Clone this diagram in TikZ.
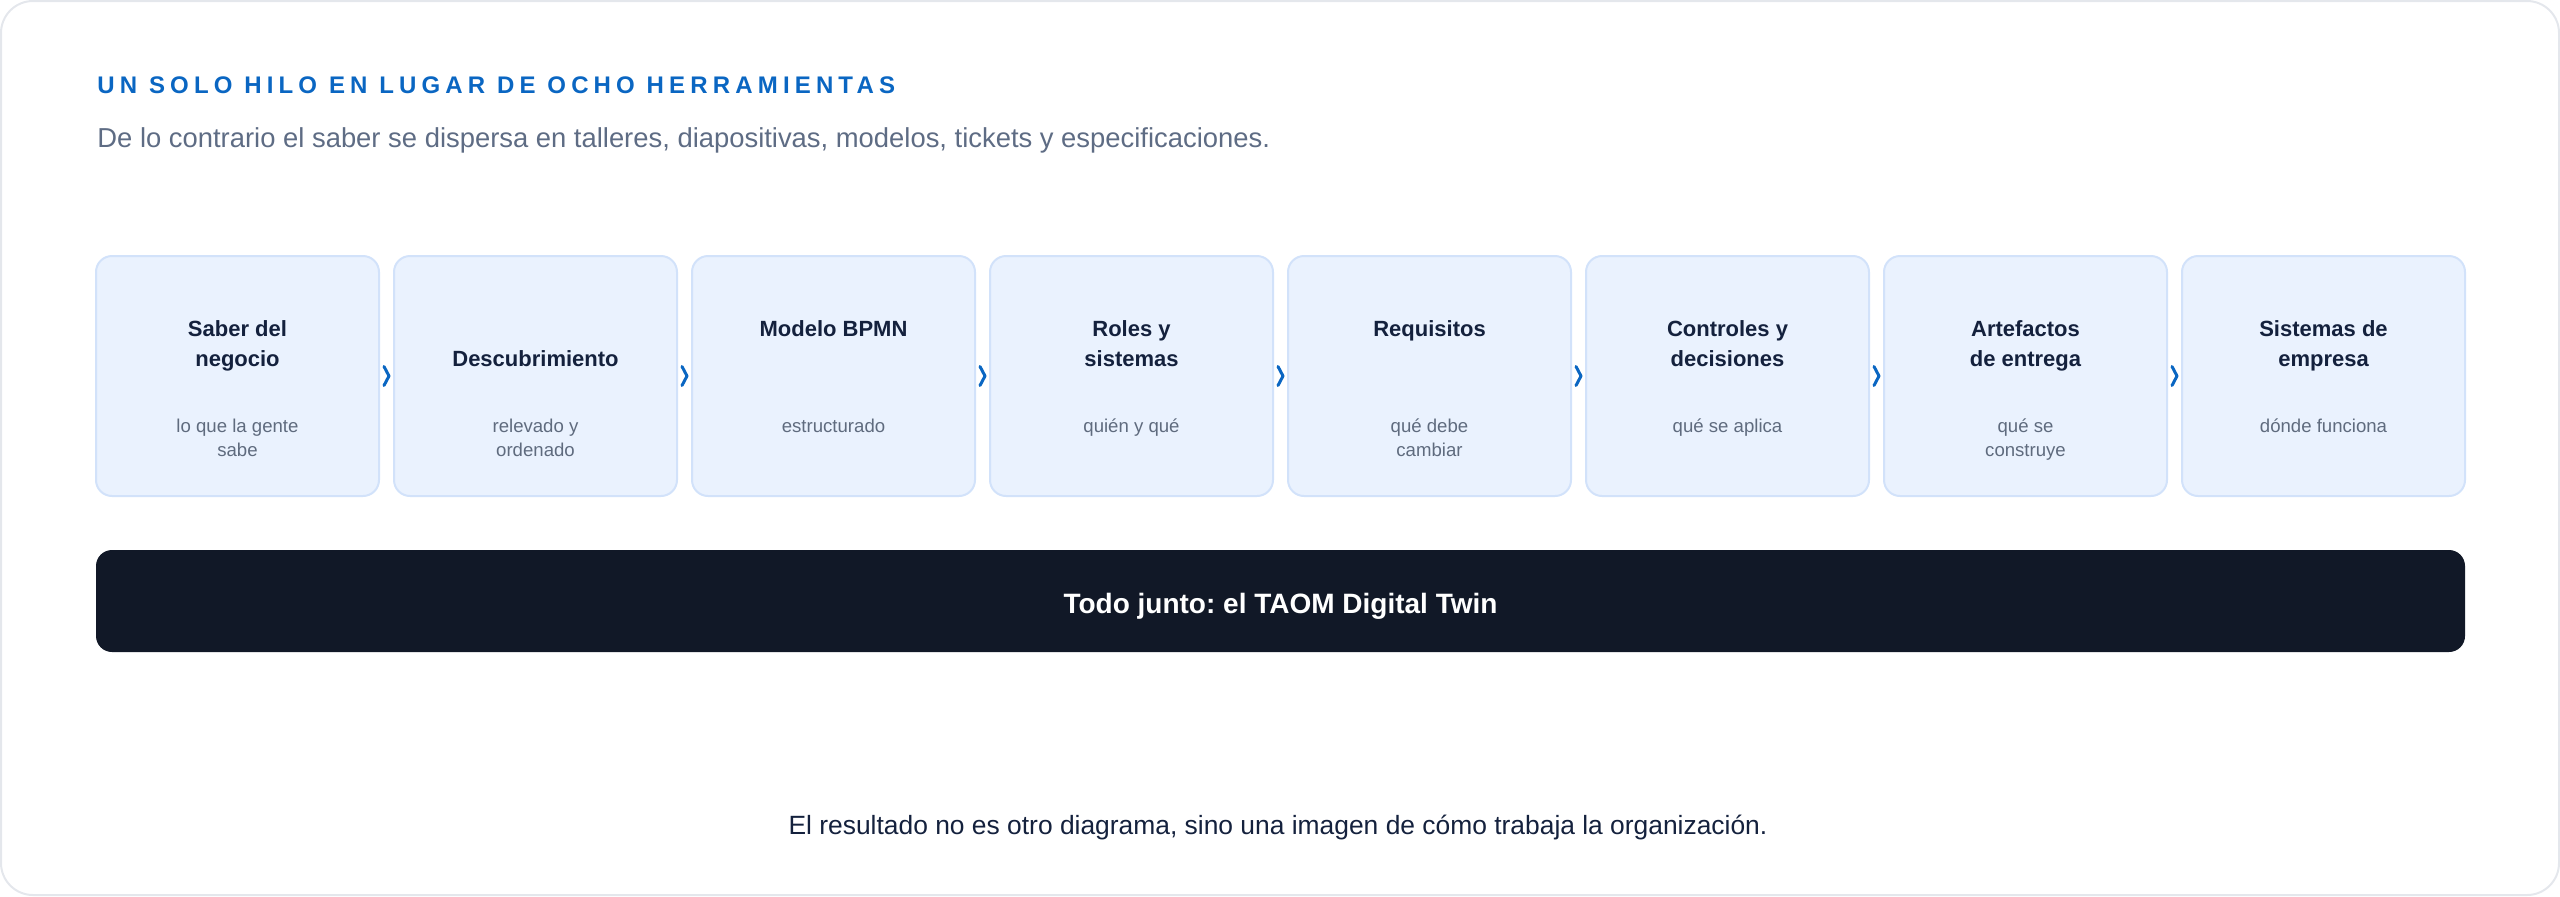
\documentclass[tikz,border=0pt]{standalone}
\usepackage{fontspec}
\setmainfont{Liberation Sans}
\newfontfamily\spacedfont[LetterSpace=21.5]{Liberation Sans}
\usetikzlibrary{calc}
\definecolor{hiloblue}{HTML}{0A66C2}
\definecolor{leadgray}{HTML}{5E6C84}
\definecolor{cardfill}{HTML}{EAF2FE}
\definecolor{cardline}{HTML}{D2E2FA}
\definecolor{navy}{HTML}{14213D}
\definecolor{subgray}{HTML}{5F6B7E}
\definecolor{barblack}{HTML}{111827}
\definecolor{framegray}{HTML}{E4E7EC}
\frenchspacing

\begin{document}
\begin{tikzpicture}[x=0.5pt,y=-0.5pt,
	card/.style={draw=cardline, fill=cardfill, line width=1pt, rounded corners=8pt,
		minimum width=141.5pt, minimum height=120pt, inner sep=0},
	cardtitle/.style={anchor=base, align=center, inner sep=0, text=navy,
		font=\bfseries\fontsize{11}{15}\selectfont},
	cardsub/.style={anchor=base, align=center, inner sep=0, text=subgray,
		font=\fontsize{9.3}{12}\selectfont},
	chev/.style={draw=hiloblue, line width=1.5pt, line cap=round, line join=round}]
	% frame
	\useasboundingbox (0,0) rectangle (2560,896);
	\draw[framegray, line width=1pt, rounded corners=16pt] (1,1) rectangle (2559,895);
	% header
	\node[anchor=base west, inner sep=0, text=hiloblue, font=\spacedfont\bfseries\fontsize{12}{14}\selectfont] (head) at (97,93) {UN SOLO HILO EN LUGAR DE OCHO HERRAMIENTAS};
	\node[anchor=base west, inner sep=0, text=leadgray, font=\fontsize{13.7}{16}\selectfont] (lead) at (97,147) {De lo contrario el saber se dispersa en talleres, diapositivas, modelos, tickets y especificaciones.};
	% cards (title and subtitle placed by their last baseline)
	\foreach \i/\t/\s/\ty/\sy in {1/{Saber del\\negocio}/{lo que la gente\\sabe}/366/456,
		2/{Descubrimiento}/{relevado y\\ordenado}/366/456,
		3/{Modelo BPMN}/{estructurado}/336/432,
		4/{Roles y\\sistemas}/{quién y qué}/366/432,
		5/{Requisitos}/{qué debe\\cambiar}/336/456,
		6/{Controles y\\decisiones}/{qué se aplica}/366/432,
		7/{Artefactos\\de entrega}/{qué se\\construye}/366/456,
		8/{Sistemas de\\empresa}/{dónde funciona}/366/432}{
		\node[card] (b\i) at (237.5+298*\i-298, 376) {};
		\node[cardtitle] (t\i) at (237.5+298*\i-298, \ty) {\t};
		\node[cardsub] (s\i) at (237.5+298*\i-298, \sy) {\s};
	}
	% chevrons
	\foreach \i [evaluate=\i as \j using int(\i+1)] in {1,...,7}
		\draw[chev] ($(b\i.east)!.5!(b\j.west)$) ++(-2.5,-9.5) -- ++(5,9.5) -- ++(-5,9.5);
	% result bar
	\node[fill=barblack, rounded corners=8pt, minimum width=1184.5pt, minimum height=51pt, inner sep=0] (bar) at (1280.5,601) {};
	\node[anchor=base, inner sep=0, text=white, font=\bfseries\fontsize{14}{16}\selectfont] (bartext) at (1280.5,613) {Todo junto: el TAOM Digital Twin};
	\node[anchor=base, inner sep=0, text=navy, font=\fontsize{13.2}{16}\selectfont] (foot) at (1278,834) {El resultado no es otro diagrama, sino una imagen de cómo trabaja la organización.};
\end{tikzpicture}
\end{document}
